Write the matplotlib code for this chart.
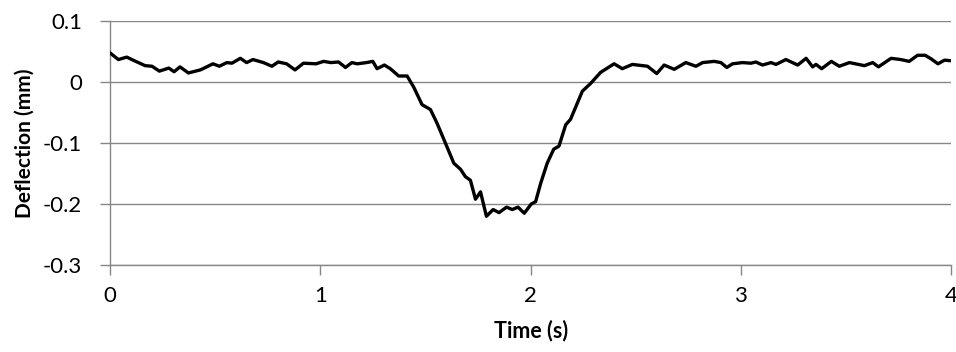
import matplotlib
matplotlib.use("Agg")
import matplotlib.pyplot as plt

time_s = [0.0, 0.04, 0.08, 0.11, 0.167, 0.2, 0.235, 0.28, 0.305, 0.333, 0.373, 0.43,
          0.49, 0.52, 0.556, 0.58, 0.62, 0.65, 0.68, 0.73, 0.77, 0.80, 0.84, 0.88,
          0.92, 0.98, 1.016, 1.05, 1.087, 1.12, 1.15, 1.175, 1.22, 1.25, 1.27, 1.305,
          1.333, 1.373, 1.413, 1.444, 1.484, 1.524, 1.556, 1.595, 1.635, 1.667, 1.69,
          1.714, 1.738, 1.762, 1.79, 1.822, 1.85, 1.886, 1.913, 1.94, 1.97, 2.003,
          2.024, 2.048, 2.079, 2.11, 2.135, 2.167, 2.19, 2.246, 2.286, 2.333, 2.397,
          2.436, 2.484, 2.556, 2.6, 2.635, 2.683, 2.738, 2.786, 2.818, 2.873, 2.905,
          2.933, 2.96, 3.008, 3.048, 3.071, 3.103, 3.143, 3.167, 3.214, 3.27, 3.31,
          3.341, 3.357, 3.384, 3.43, 3.468, 3.516, 3.587, 3.627, 3.654, 3.714, 3.76,
          3.8, 3.84, 3.876, 3.905, 3.937, 3.968, 4.0]
deflection_mm = [0.048, 0.037, 0.041, 0.036, 0.027, 0.026, 0.018, 0.023, 0.017, 0.025,
                 0.015, 0.020, 0.030, 0.026, 0.032, 0.031, 0.039, 0.032, 0.037, 0.032,
                 0.026, 0.033, 0.030, 0.020, 0.031, 0.030, 0.034, 0.032, 0.033, 0.024,
                 0.032, 0.030, 0.032, 0.034, 0.022, 0.028, 0.022, 0.010, 0.010, -0.008,
                 -0.037, -0.045, -0.068, -0.100, -0.133, -0.143, -0.155, -0.161, -0.192,
                 -0.180, -0.220, -0.209, -0.214, -0.205, -0.209, -0.205, -0.215, -0.200,
                 -0.196, -0.166, -0.133, -0.110, -0.105, -0.070, -0.061, -0.015, -0.002,
                 0.016, 0.030, 0.022, 0.029, 0.026, 0.014, 0.028, 0.021, 0.032, 0.026,
                 0.032, 0.034, 0.032, 0.024, 0.030, 0.032, 0.031, 0.033, 0.028, 0.032,
                 0.029, 0.037, 0.028, 0.039, 0.025, 0.029, 0.022, 0.034, 0.026, 0.032,
                 0.027, 0.032, 0.025, 0.039, 0.037, 0.034, 0.044, 0.044, 0.038, 0.030,
                 0.036, 0.035]

x_ticks = [0, 1, 2, 3, 4]
x_ticklabels = ["0", "1", "2", "3", "4"]
y_ticks = [-0.3, -0.2, -0.1, 0, 0.1]
y_ticklabels = ["-0.3", "-0.2", "-0.1", "0", "0.1"]

plt.rcParams['font.family'] = ['Lato', 'DejaVu Sans']

fig = plt.figure(figsize=(9.56, 3.52), dpi=100)
ax = fig.add_axes([0.115, 0.247, 0.88, 0.693])

grey = "#878787"
ax.plot(time_s, deflection_mm, color="black", lw=2.4, solid_joinstyle="round",
        solid_capstyle="round", zorder=3)

ax.set_xlim(0, 4)
ax.set_ylim(-0.3, 0.1)
ax.set_xticks(x_ticks)
ax.set_xticklabels(x_ticklabels)
ax.set_yticks(y_ticks)
ax.set_yticklabels(y_ticklabels)

ax.yaxis.grid(True, color=grey, lw=1.0)
ax.set_axisbelow(True)
for s in ["top", "right"]:
    ax.spines[s].set_visible(False)
for s in ["left", "bottom"]:
    ax.spines[s].set_color(grey)
    ax.spines[s].set_linewidth(1.0)

ax.tick_params(axis="both", direction="out", length=7, width=1.0, color=grey,
               labelsize=16, labelcolor="black")
ax.tick_params(axis="x", pad=8)
ax.tick_params(axis="y", pad=13)

ax.set_xlabel("Time (s)", fontsize=15.5, fontweight="bold", labelpad=10)
ax.set_ylabel("Deflection (mm)", fontsize=15, fontweight="bold", labelpad=6)

fig.savefig("out.png", dpi=100)
